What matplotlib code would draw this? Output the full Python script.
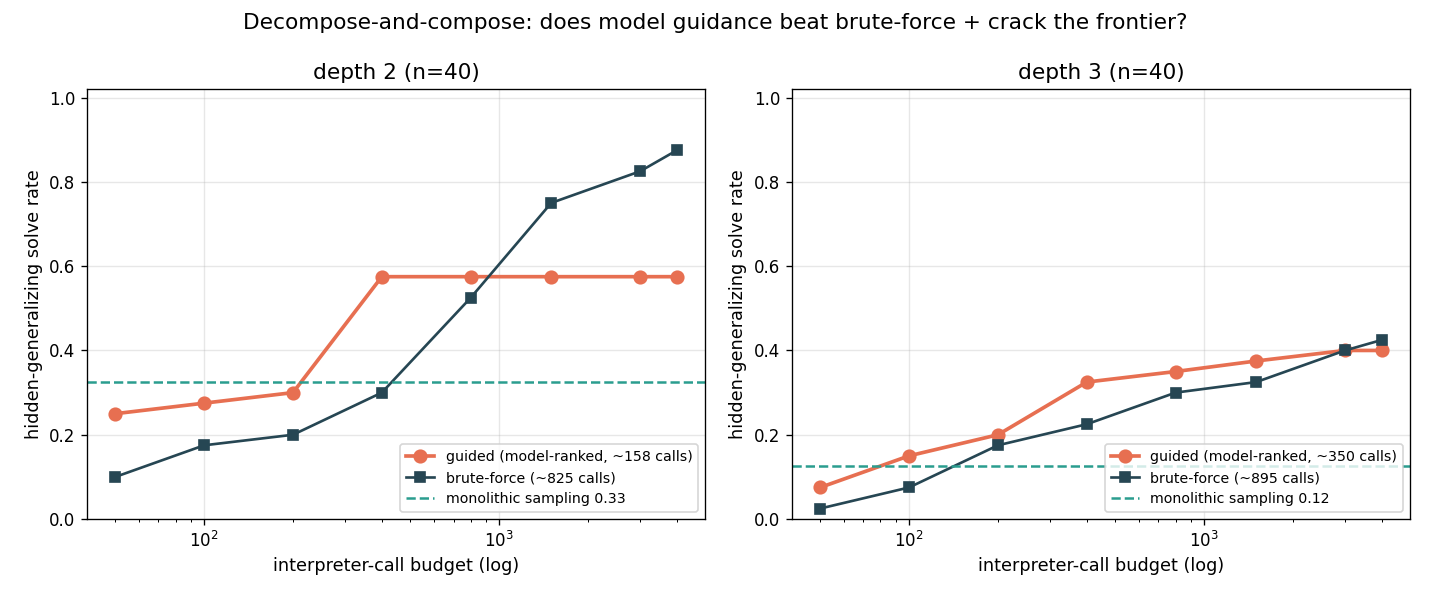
import matplotlib
matplotlib.use("Agg")
from matplotlib import pyplot as plt

# бюджеты вызовов интерпретатора
budgets = [50, 100, 200, 400, 800, 1500, 3000, 4000]

# depth 2
guided_d2 = [0.25, 0.275, 0.3, 0.575, 0.575, 0.575, 0.575, 0.575]
brute_d2 = [0.1, 0.175, 0.2, 0.3, 0.525, 0.75, 0.825, 0.875]
mono_d2 = 0.325

# depth 3
guided_d3 = [0.075, 0.15, 0.2, 0.325, 0.35, 0.375, 0.4, 0.4]
brute_d3 = [0.025, 0.075, 0.175, 0.225, 0.3, 0.325, 0.4, 0.425]
mono_d3 = 0.125

panels = [
    ("depth 2 (n=40)", guided_d2, brute_d2, mono_d2, 158, 825, "0.33"),
    ("depth 3 (n=40)", guided_d3, brute_d3, mono_d3, 350, 895, "0.12"),
]

GUIDED = "#e76f51"
BRUTE = "#264653"
MONO = "#2a9d8f"

fig, axes = plt.subplots(1, 2, figsize=(1430 / 120, 598 / 120), dpi=120)
fig.subplots_adjust(left=0.061, right=0.986, top=0.851, bottom=0.132, wspace=0.141)

for ax, (title, guided, brute, mono, g_calls, b_calls, mono_lbl) in zip(axes, panels):
    ax.plot(budgets, guided, color=GUIDED, marker="o", linewidth=2.2, markersize=7.5,
            label=f"guided (model-ranked, ~{g_calls} calls)")
    ax.plot(budgets, brute, color=BRUTE, marker="s", linewidth=1.6, markersize=6.5,
            label=f"brute-force (~{b_calls} calls)")
    ax.axhline(mono, color=MONO, linestyle="--", linewidth=1.5,
               label=f"monolithic sampling {mono_lbl}")
    ax.set_xscale("log")
    ax.set_ylim(0, 1.02)
    ax.set_title(title, fontsize=13)
    ax.set_xlabel("interpreter-call budget (log)", fontsize=10.6)
    ax.set_ylabel("hidden-generalizing solve rate", fontsize=10.6)
    ax.grid(True, alpha=0.3)
    ax.legend(loc="lower right", fontsize=8.5)

fig.suptitle("Decompose-and-compose: does model guidance beat brute-force + crack the frontier?",
             fontsize=13, y=0.978)

fig.savefig("out.png", dpi=120)
